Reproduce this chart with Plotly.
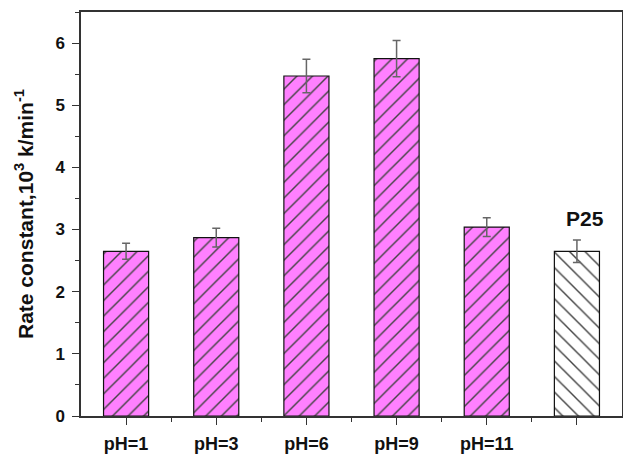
import plotly.graph_objects as go

categories = ["pH=1", "pH=3", "pH=6", "pH=9", "pH=11", "P25"]
tick_labels = ["pH=1", "pH=3", "pH=6", "pH=9", "pH=11", " "]
rate_constant = [2.65, 2.87, 5.47, 5.75, 3.04, 2.65]
rate_error = [0.13, 0.15, 0.27, 0.29, 0.15, 0.18]
fill_colors = ["#FF80FF", "#FF80FF", "#FF80FF", "#FF80FF", "#FF80FF", "#FFFFFF"]
hatch_shapes = ["/", "/", "/", "/", "/", "\\"]
y_ticks = [0, 1, 2, 3, 4, 5, 6]

xpos = list(range(len(categories)))

fig = go.Figure()
fig.add_trace(go.Bar(
    x=xpos,
    y=rate_constant,
    width=0.5,
    marker=dict(
        color=fill_colors,
        line=dict(color="#111111", width=1.2),
        pattern=dict(shape=hatch_shapes, fgcolor="#2a0a30", fgopacity=1,
                     size=11, solidity=0.13),
    ),
    error_y=dict(type="data", array=rate_error, color="#666666", thickness=1.5, width=4),
    showlegend=False,
))

fig.add_annotation(
    x=xpos[-1], y=rate_constant[-1] + rate_error[-1], yshift=22, xshift=8,
    text="<b>P25</b>", showarrow=False,
    font=dict(family="Liberation Sans, Arial", size=21, color="#111111"),
)

fig.update_layout(
    width=623, height=454,
    margin=dict(l=81, r=1, t=12, b=38),
    paper_bgcolor="white", plot_bgcolor="white",
    font=dict(family="Liberation Sans, Arial", color="#111111"),
    bargap=0.5,
)
fig.update_xaxes(
    range=[-0.5, 5.5], automargin=False,
    tickvals=xpos, ticktext=tick_labels,
    ticks="outside", ticklen=7, tickwidth=1.2, tickcolor="#333333",
    minor=dict(tickvals=[i + 0.5 for i in xpos[:-1]], ticks="outside", ticklen=4, tickcolor="#333333"),
    showline=True, linecolor="#333333", linewidth=1.5, mirror=True,
    showgrid=False, zeroline=False,
    tickfont=dict(size=18, weight="bold"),
    ticklabelstandoff=4,
)
fig.update_yaxes(
    range=[0, 6.5], automargin=False,
    tickvals=y_ticks,
    ticks="outside", ticklen=7, tickwidth=1.2, tickcolor="#333333",
    minor=dict(dtick=0.5, tick0=0, ticks="outside", ticklen=4, tickcolor="#333333"),
    showline=True, linecolor="#333333", linewidth=1.5, mirror=True,
    showgrid=False, zeroline=False,
    tickfont=dict(size=17, weight="bold"),
    ticklabelstandoff=4,
    title=dict(text="Rate constant,10<sup>3</sup> k/min<sup>-1</sup>",
               font=dict(size=21, weight="bold"), standoff=16),
)

fig.write_html("out.html")
